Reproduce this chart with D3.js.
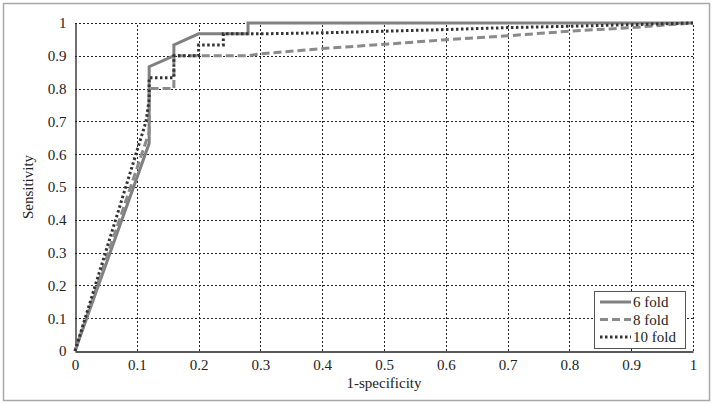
<!DOCTYPE html>
<html>
<head>
<meta charset="utf-8">
<script src="https://cdn.jsdelivr.net/npm/d3@7"></script>
<style>
  body { margin: 0; background: #fff; }
  text { font-family: "Liberation Serif", "DejaVu Serif", serif; fill: #222; }
</style>
</head>
<body>
<svg id="chart" width="714" height="405"></svg>
<script>
// ROC curves: [1-specificity, sensitivity]
const fold6 = [[0,0],[0.12,0.633],[0.12,0.867],[0.16,0.9],[0.16,0.933],[0.2,0.967],[0.28,0.967],[0.28,1],[1,1]]
const fold8 = [[0,0],[0.12,0.667],[0.12,0.8],[0.16,0.8],[0.16,0.9],[0.28,0.9],[0.3,0.906],[0.4,0.922],[0.5,0.935],
               [0.6,0.949],[0.7,0.961],[0.8,0.975],[0.9,0.986],[1,1]]
const fold10 = [[0,0],[0.115,0.7],[0.12,0.767],[0.12,0.833],[0.16,0.833],[0.16,0.9],[0.2,0.9],[0.2,0.933],[0.24,0.933],
                [0.24,0.967],[0.3,0.967],[0.4,0.97],[0.5,0.975],[0.6,0.98],[0.7,0.986],[0.8,0.99],[0.9,0.995],[1,1]]
const seriesNames = ["6 fold", "8 fold", "10 fold"]
const ticks = [0,0.1,0.2,0.3,0.4,0.5,0.6,0.7,0.8,0.9,1]

const series = [
  {name: seriesNames[0], data: fold6, color: "#808080", dash: null},
  {name: seriesNames[1], data: fold8, color: "#8a8a8a", dash: "8,4"},
  {name: seriesNames[2], data: fold10, color: "#333", dash: "2.5,2.5"}
]

const svg = d3.select("#chart")
const margin = {left: 75, right: 21, top: 23, bottom: 54}
const W = 714, H = 405

// outer frame
svg.append("rect")
  .attr("x", 3.5).attr("y", 3.5).attr("width", 706).attr("height", 397)
  .attr("fill", "none").attr("stroke", "#a8a8a8").attr("stroke-width", 1.5)

const x = d3.scaleLinear().domain([0, 1]).range([margin.left, W - margin.right])
const y = d3.scaleLinear().domain([0, 1]).range([H - margin.bottom, margin.top])

// grid
const grid = svg.append("g")
grid.selectAll(".vg").data(ticks.slice(1))
  .enter().append("line")
  .attr("x1", d => Math.round(x(d)) + 0.5).attr("x2", d => Math.round(x(d)) + 0.5)
  .attr("y1", y(0)).attr("y2", y(1))
  .attr("stroke", "#222").attr("stroke-width", 1).attr("stroke-dasharray", "2,2")
grid.selectAll(".hg").data(ticks.slice(1))
  .enter().append("line")
  .attr("y1", d => Math.round(y(d)) + 0.5).attr("y2", d => Math.round(y(d)) + 0.5)
  .attr("x1", x(0)).attr("x2", x(1))
  .attr("stroke", "#222").attr("stroke-width", 1).attr("stroke-dasharray", "2,2")

// axes (no tick marks, just labels)
const fmt = d => d === 0 ? "0" : d === 1 ? "1" : d3.format(".1f")(d)
const xAxis = svg.append("g")
  .attr("transform", `translate(0, ${Math.round(y(0)) + 0.5})`)
  .call(d3.axisBottom(x).tickValues(ticks).tickFormat(fmt).tickSize(0).tickPadding(8))
const yAxis = svg.append("g")
  .attr("transform", `translate(${Math.round(x(0)) + 0.5}, 0)`)
  .call(d3.axisLeft(y).tickValues(ticks).tickFormat(fmt).tickSize(0).tickPadding(9))
;[xAxis, yAxis].forEach(a => {
  a.selectAll("text").style("font-size", "15px").style("font-family", "Liberation Serif, serif").attr("fill", "#222")
  a.select(".domain").attr("stroke", "#222").attr("stroke-width", 1.3)
})

// curves
const line = d3.line().x(d => x(d[0])).y(d => y(d[1]))
svg.append("g").selectAll("path")
  .data(series)
  .enter().append("path")
  .attr("d", d => line(d.data))
  .attr("fill", "none")
  .attr("stroke", d => d.color)
  .attr("stroke-width", 3)
  .attr("stroke-dasharray", d => d.dash)

// axis titles
svg.append("text")
  .attr("x", x(0.5)).attr("y", 388)
  .attr("text-anchor", "middle")
  .style("font-size", "15px")
  .text("1-specificity")
svg.append("text")
  .attr("transform", `translate(33, ${y(0.5)}) rotate(-90)`)
  .attr("text-anchor", "middle")
  .style("font-size", "15px")
  .text("Sensitivity")

// legend
const legend = svg.append("g")
legend.append("rect")
  .attr("x", 594.5).attr("y", 291.5).attr("width", 91).attr("height", 57)
  .attr("fill", "#fff").attr("stroke", "#555").attr("stroke-width", 1)
const items = legend.selectAll(".item").data(series)
  .enter().append("g")
  .attr("transform", (d, i) => `translate(0, ${302 + i * 17.5})`)
items.append("line")
  .attr("x1", 600).attr("x2", 631)
  .attr("stroke", d => d.color).attr("stroke-width", 3)
  .attr("stroke-dasharray", d => d.dash)
items.append("text")
  .attr("x", 633).attr("y", 5)
  .style("font-size", "15px")
  .text(d => d.name)
</script>
</body>
</html>
